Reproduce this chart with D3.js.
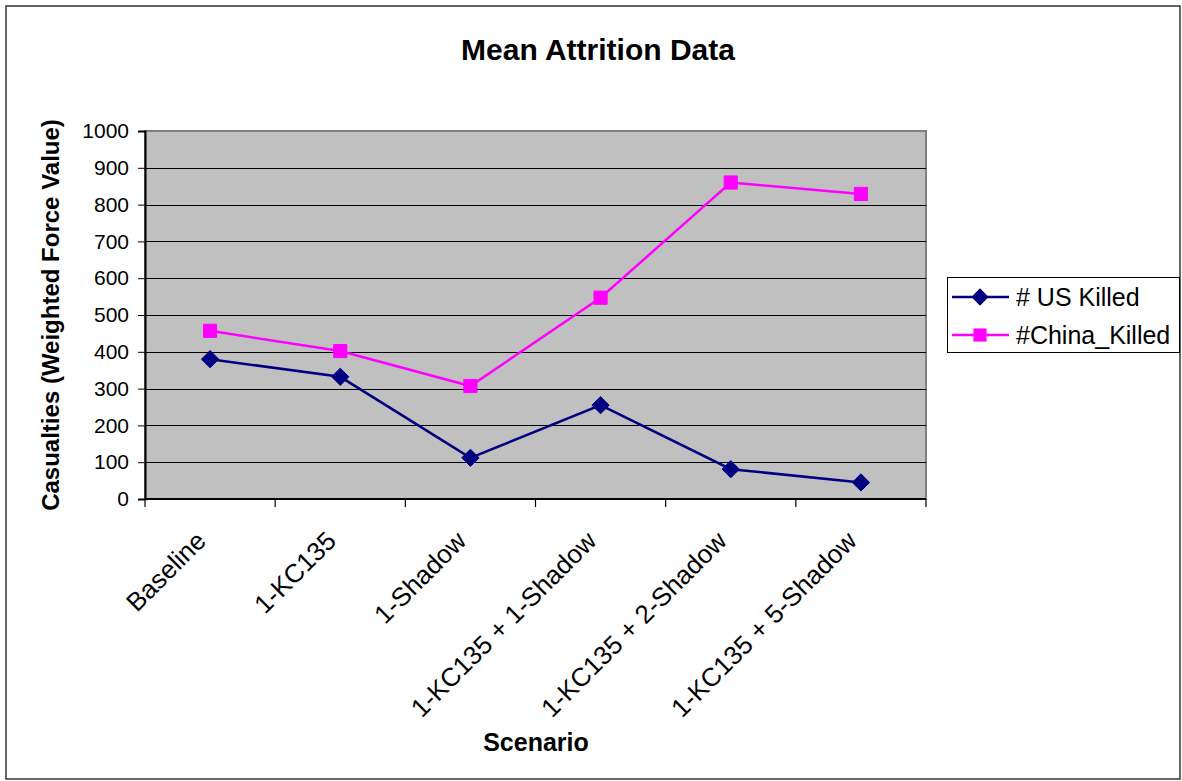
<!DOCTYPE html>
<html>
<head>
<meta charset="utf-8">
<script src="https://cdn.jsdelivr.net/npm/d3@7"></script>
<style>
  body { margin: 0; background: #fff; }
  text { font-family: "Liberation Sans", Arial, sans-serif; fill: #000; }
</style>
</head>
<body>
<div id="chart"></div>
<script>
var categories = ["Baseline", "1-KC135", "1-Shadow", "1-KC135 + 1-Shadow", "1-KC135 + 2-Shadow", "1-KC135 + 5-Shadow"];
var usKilled = [380, 332, 112, 255, 81, 45];
var chinaKilled = [457, 402, 307, 547, 860, 829];
var yTicks = [0, 100, 200, 300, 400, 500, 600, 700, 800, 900, 1000];

var width = 1182, height = 781;
var plot = { left: 145, top: 131, right: 926, bottom: 499 };

var svg = d3.select("#chart").append("svg")
    .attr("width", width)
    .attr("height", height);

// outer chart border
svg.append("rect")
    .attr("x", 6).attr("y", 6)
    .attr("width", width - 8).attr("height", height - 8)
    .attr("fill", "#fff")
    .attr("stroke", "#333")
    .attr("stroke-width", 1.5);

var x = d3.scaleBand().domain(categories).range([plot.left, plot.right]).padding(0);
var y = d3.scaleLinear().domain([0, 1000]).range([plot.bottom, plot.top]);

// plot area
svg.append("rect")
    .attr("x", plot.left).attr("y", plot.top)
    .attr("width", plot.right - plot.left).attr("height", plot.bottom - plot.top)
    .attr("fill", "#c0c0c0")
    .attr("stroke", "#808080")
    .attr("stroke-width", 2);

// gridlines
svg.append("g").selectAll("line")
    .data(yTicks.filter(function(d){ return d > 0 && d < 1000; }))
    .enter().append("line")
    .attr("x1", plot.left).attr("x2", plot.right)
    .attr("y1", function(d){ return Math.round(y(d)) + 0.5; })
    .attr("y2", function(d){ return Math.round(y(d)) + 0.5; })
    .attr("stroke", "#000")
    .attr("stroke-width", 1);

// y axis
var yAxis = d3.axisLeft(y).tickValues(yTicks).tickFormat(d3.format("d")).tickSize(7).tickPadding(9);
var gy = svg.append("g").attr("transform", "translate(" + plot.left + ",0)").call(yAxis);
gy.select(".domain").attr("stroke", "#000").attr("stroke-width", 2);
gy.selectAll(".tick line").attr("stroke", "#000");
gy.selectAll(".tick text").attr("font-size", 21).style("font-family", "Liberation Sans, Arial, sans-serif");

// x axis with ticks between categories
var xTickPos = d3.range(categories.length + 1).map(function(i){ return plot.left + i * x.step(); });
var gx = svg.append("g");
gx.append("line")
    .attr("x1", plot.left).attr("x2", plot.right)
    .attr("y1", plot.bottom).attr("y2", plot.bottom)
    .attr("stroke", "#000").attr("stroke-width", 2);
gx.selectAll("line.tk").data(xTickPos).enter().append("line")
    .attr("class", "tk")
    .attr("x1", function(d){ return d; }).attr("x2", function(d){ return d; })
    .attr("y1", plot.bottom).attr("y2", plot.bottom + 8)
    .attr("stroke", "#000").attr("stroke-width", 1.2);
gx.selectAll("text").data(categories).enter().append("text")
    .attr("transform", function(d){
        var cx = x(d) + x.bandwidth() / 2 - 9;
        return "translate(" + cx + "," + (plot.bottom + 37) + ") rotate(-45)";
    })
    .attr("text-anchor", "end")
    .attr("dy", "0.35em")
    .attr("font-size", 26)
    .text(function(d){ return d; });

// series
var series = [
    { name: "# US Killed", values: usKilled, color: "#000080", shape: d3.symbolDiamond2 },
    { name: "#China_Killed", values: chinaKilled, color: "#ff00ff", shape: d3.symbolSquare2 }
];

var line = d3.line()
    .x(function(d, i){ return x(categories[i]) + x.bandwidth() / 2; })
    .y(function(d){ return y(d); });

series.forEach(function(s) {
    svg.append("path")
        .datum(s.values)
        .attr("d", line)
        .attr("fill", "none")
        .attr("stroke", s.color)
        .attr("stroke-width", 2.5);
    svg.append("g").selectAll("path")
        .data(s.values)
        .enter().append("path")
        .attr("transform", function(d, i){
            return "translate(" + (x(categories[i]) + x.bandwidth() / 2) + "," + y(d) + ")";
        })
        .attr("d", d3.symbol().type(s.shape).size(s.shape === d3.symbolSquare2 ? 220 : 190))
        .attr("fill", s.color)
        .attr("stroke", s.color)
        .attr("stroke-width", 1);
});

// title and axis labels
svg.append("text")
    .attr("x", 598).attr("y", 60)
    .attr("text-anchor", "middle")
    .attr("font-size", 30).attr("font-weight", "bold")
    .text("Mean Attrition Data");

svg.append("text")
    .attr("transform", "translate(59," + ((plot.top + plot.bottom) / 2) + ") rotate(-90)")
    .attr("text-anchor", "middle")
    .attr("font-size", 24).attr("font-weight", "bold")
    .text("Casualties (Weighted Force Value)");

svg.append("text")
    .attr("x", 536).attr("y", 751)
    .attr("text-anchor", "middle")
    .attr("font-size", 25).attr("font-weight", "bold")
    .text("Scenario");

// legend
var lg = svg.append("g").attr("transform", "translate(947,277)");
lg.append("rect")
    .attr("x", 0.5).attr("y", 0.5)
    .attr("width", 232).attr("height", 75)
    .attr("fill", "#fff").attr("stroke", "#000").attr("stroke-width", 1);
series.forEach(function(s, i) {
    var ly = 20 + i * 38;
    lg.append("line")
        .attr("x1", 5).attr("x2", 62)
        .attr("y1", ly).attr("y2", ly)
        .attr("stroke", s.color).attr("stroke-width", 2.5);
    lg.append("path")
        .attr("transform", "translate(33," + ly + ")")
        .attr("d", d3.symbol().type(s.shape).size(s.shape === d3.symbolSquare2 ? 220 : 190))
        .attr("fill", s.color);
    lg.append("text")
        .attr("x", 69).attr("y", ly)
        .attr("dy", "0.35em")
        .attr("font-size", 25)
        .text(s.name);
});
</script>
</body>
</html>
